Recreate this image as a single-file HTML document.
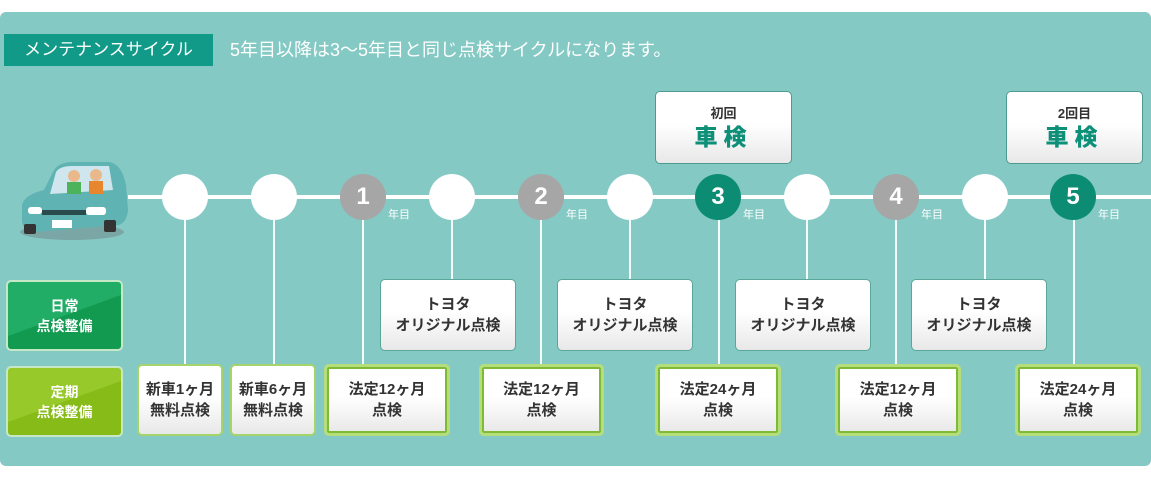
<!DOCTYPE html>
<html><head><meta charset="utf-8"><style>
*{margin:0;padding:0;box-sizing:border-box}
body{width:1151px;height:480px;background:#fff;position:relative;overflow:hidden;font-family:"Liberation Sans","Noto Sans CJK JP",sans-serif}
.panel{position:absolute;left:0;top:12px;width:1151px;height:454px;background:#84c9c4;border-radius:6px}
.a{position:absolute}
.title{left:4px;top:34px;width:209px;height:32px;background:#129a88;color:#fff;font-size:17px;line-height:32px;text-align:center}
.sub{left:230px;top:38px;color:#fff;font-size:18px;line-height:24px}
.line{left:128px;top:195px;width:1023px;height:4px;background:#fff}
.c{width:46px;height:46px;border-radius:50%;background:#fff;top:174px;color:#fff;font-size:24px;font-weight:bold;text-align:center;line-height:46px}
.g{background:#a6a6a6}.t{background:#0d8c74}
.y{top:206px;color:#fff;font-size:11px}
.v{width:2px;background:#f4fbfa}
.box{border-radius:5px;background:linear-gradient(#fff 45%,#e8e8e8);text-align:center;color:#333;font-weight:bold;font-size:15px;line-height:21px;display:flex;align-items:center;justify-content:center;flex-direction:column}
.tb{top:279px;width:136px;height:72px;border:1px solid #5aa79a}
.lb{top:364px;height:72px;border:3px solid #b5de7a;box-shadow:inset 0 0 0 2px #7dbb35}
.nb{top:364px;height:72px;border:2px solid #a4d46a}
.sk{top:91px;width:137px;height:73px;border:1px solid #4f9a8f}
.sk b{color:#0e8f78;font-size:23px;line-height:28px;letter-spacing:6px}
.sk span{font-size:13px;line-height:18px}
.lab{left:6px;width:117px;height:71px;border-radius:5px;border:2px solid #c6e8c6;color:#fff;font-weight:bold;font-size:14px;line-height:20px;display:flex;align-items:center;justify-content:center;text-align:center}
</style></head><body>
<div class="panel"></div>
<div class="a title">メンテナンスサイクル</div>
<div class="a sub">5年目以降は3〜5年目と同じ点検サイクルになります。</div>
<svg class="a" style="left:14px;top:150px" width="118" height="95" viewBox="0 0 118 95">
<ellipse cx="58" cy="82" rx="52" ry="8" fill="#7aa7a6"/>
<path d="M8 55 Q10 45 30 40 L40 20 Q45 12 60 12 L95 12 Q108 14 112 35 L114 60 Q113 72 105 75 L20 82 Q8 80 8 70Z" fill="#5fb3b3"/>
<path d="M42 22 Q46 16 58 16 L95 16 L99 40 L36 44Z" fill="#cfe6ee"/>
<circle cx="60" cy="26" r="6" fill="#e9b98c"/><rect x="53" y="32" width="14" height="12" fill="#4db35a"/>
<circle cx="82" cy="25" r="6" fill="#e9b98c"/><rect x="75" y="31" width="14" height="13" fill="#e8862e"/>
<rect x="14" y="57" width="14" height="7" rx="3" fill="#fff"/><rect x="72" y="57" width="20" height="8" rx="3" fill="#fff"/>
<rect x="28" y="60" width="44" height="5" fill="#2a4b4b"/>
<rect x="38" y="70" width="20" height="8" fill="#fff"/>
<rect x="10" y="74" width="12" height="10" rx="2" fill="#333"/><rect x="90" y="70" width="12" height="12" rx="2" fill="#333"/>
</svg>
<div class="a line"></div>
<div class="a v" style="left:184px;top:220px;height:146px"></div>
<div class="a v" style="left:273px;top:220px;height:146px"></div>
<div class="a v" style="left:362px;top:220px;height:146px"></div>
<div class="a v" style="left:451px;top:220px;height:60px"></div>
<div class="a v" style="left:540px;top:220px;height:146px"></div>
<div class="a v" style="left:629px;top:220px;height:60px"></div>
<div class="a v" style="left:718px;top:220px;height:146px"></div>
<div class="a v" style="left:806px;top:220px;height:60px"></div>
<div class="a v" style="left:895px;top:220px;height:146px"></div>
<div class="a v" style="left:984px;top:220px;height:60px"></div>
<div class="a v" style="left:1073px;top:220px;height:146px"></div>
<div class="a c" style="left:162px"></div>
<div class="a c" style="left:251px"></div>
<div class="a c g" style="left:340px">1</div><div class="a y" style="left:388px">年目</div>
<div class="a c" style="left:429px"></div>
<div class="a c g" style="left:518px">2</div><div class="a y" style="left:566px">年目</div>
<div class="a c" style="left:607px"></div>
<div class="a c t" style="left:695px">3</div><div class="a y" style="left:743px">年目</div>
<div class="a c" style="left:784px"></div>
<div class="a c g" style="left:873px">4</div><div class="a y" style="left:921px">年目</div>
<div class="a c" style="left:962px"></div>
<div class="a c t" style="left:1050px">5</div><div class="a y" style="left:1098px">年目</div>
<div class="a box sk" style="left:655px"><span>初回</span><b>車検</b></div>
<div class="a box sk" style="left:1006px"><span>2回目</span><b>車検</b></div>
<div class="a lab" style="top:280px;background:linear-gradient(160deg,#22ad66 50%,#129a50 50%)">日常<br>点検整備</div>
<div class="a lab" style="top:366px;background:linear-gradient(160deg,#98c92a 50%,#86bb18 50%)">定期<br>点検整備</div>
<div class="a box tb" style="left:380px">トヨタ<br>オリジナル点検</div>
<div class="a box tb" style="left:557px">トヨタ<br>オリジナル点検</div>
<div class="a box tb" style="left:735px">トヨタ<br>オリジナル点検</div>
<div class="a box tb" style="left:911px">トヨタ<br>オリジナル点検</div>
<div class="a box nb" style="left:137px;width:86px">新車1ヶ月<br>無料点検</div>
<div class="a box nb" style="left:230px;width:86px">新車6ヶ月<br>無料点検</div>
<div class="a box lb" style="left:324px;width:126px">法定12ヶ月<br>点検</div>
<div class="a box lb" style="left:479px;width:125px">法定12ヶ月<br>点検</div>
<div class="a box lb" style="left:655px;width:126px">法定24ヶ月<br>点検</div>
<div class="a box lb" style="left:835px;width:126px">法定12ヶ月<br>点検</div>
<div class="a box lb" style="left:1015px;width:126px">法定24ヶ月<br>点検</div>
</body></html>
